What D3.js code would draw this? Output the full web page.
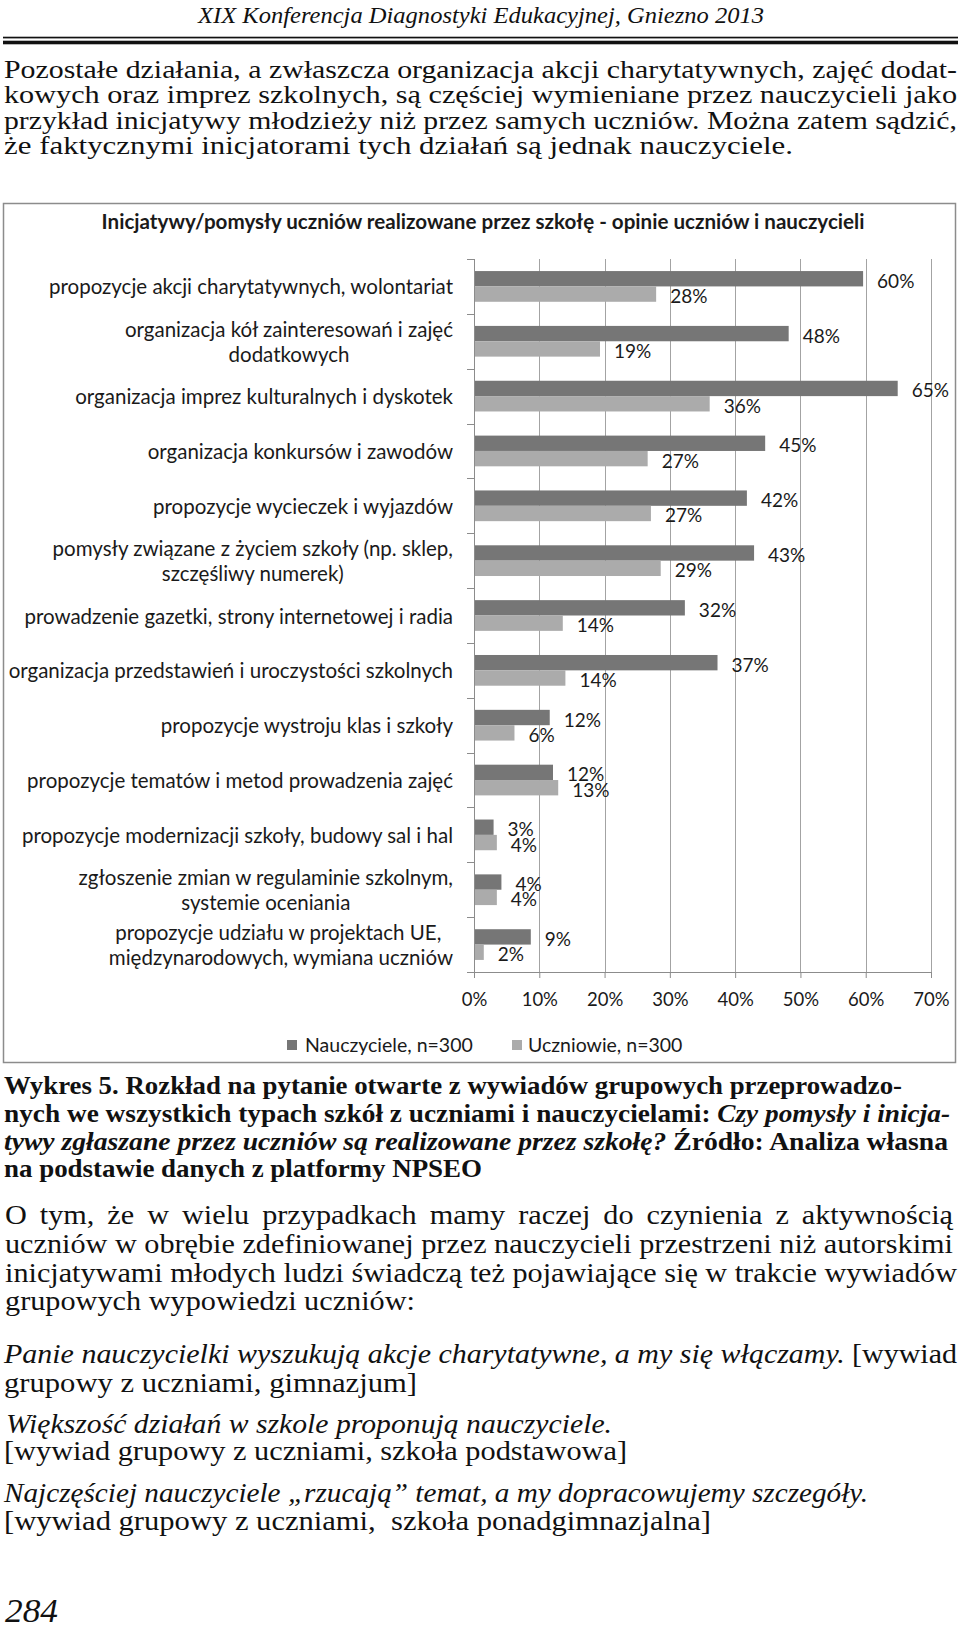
<!DOCTYPE html>
<html>
<head>
<meta charset="utf-8">
<script src="https://cdn.jsdelivr.net/npm/d3@7"></script>
<style>
  body { margin: 0; background: #fff; }
  svg { display: block; }
</style>
</head>
<body>
<div id="page"></div>
<script>
// chart data
const categories = [
  "propozycje akcji charytatywnych, wolontariat",
  "organizacja kół zainteresowań i zajęć\ndodatkowych",
  "organizacja imprez kulturalnych i dyskotek",
  "organizacja konkursów i zawodów",
  "propozycje wycieczek i wyjazdów",
  "pomysły związane z życiem szkoły (np. sklep,\nszczęśliwy numerek)",
  "prowadzenie gazetki, strony internetowej i radia",
  "organizacja przedstawień i uroczystości szkolnych",
  "propozycje wystroju klas i szkoły",
  "propozycje tematów i metod prowadzenia zajęć",
  "propozycje modernizacji szkoły, budowy sal i hal",
  "zgłoszenie zmian w regulaminie szkolnym,\nsystemie oceniania",
  "propozycje udziału w projektach UE, \nmiędzynarodowych, wymiana uczniów"
];
const seriesNames = ["Nauczyciele, n=300", "Uczniowie, n=300"];
const teachers = [59.6, 48.2, 64.9, 44.6, 41.8, 42.9, 32.3, 37.3, 11.6, 12.1, 3.0, 4.2, 8.7];
const students = [27.9, 19.3, 36.1, 26.6, 27.1, 28.6, 13.6, 14.0, 6.2, 12.9, 3.5, 3.5, 1.5];
const xTicks = [0, 10, 20, 30, 40, 50, 60, 70];
const chartTitle = "Inicjatywy/pomysły uczniów realizowane przez szkołę - opinie uczniów i nauczycieli";

const W = 960, H = 1629;
const COLORS = { dark: "#767676", light: "#ababab", grid: "#a3a3a3", axis: "#8c8c8c", text: "#1a1a1a" };

const svg = d3.select("#page").append("svg")
  .attr("width", W)
  .attr("height", H)
  .attr("viewBox", `0 0 ${W} ${H}`);

svg.append("rect").attr("width", W).attr("height", H).attr("fill", "#fff");

// ---------- chart ----------
const chart = svg.append("g")
  .attr("font-family", "Lato, 'Open Sans', sans-serif")
  .attr("fill", COLORS.text);

chart.append("rect")
  .attr("x", 3.5).attr("y", 203.5)
  .attr("width", 952).attr("height", 859)
  .attr("fill", "none")
  .attr("stroke", COLORS.axis)
  .attr("stroke-width", 1.5);

chart.append("text")
  .attr("x", 483).attr("y", 221)
  .attr("text-anchor", "middle")
  .attr("dominant-baseline", "central")
  .attr("font-weight", "bold")
  .attr("font-size", 20.6)
  .text(chartTitle);

const x = d3.scaleLinear().domain([0, 70]).range([474, 931]);
const y = d3.scaleBand().domain(categories).range([259, 972])
  .paddingInner(0.44).paddingOuter(0.22);
const sub = d3.scaleBand().domain(seriesNames).range([0, y.bandwidth()]);
const [yTop, yBottom] = y.range();

chart.append("g").selectAll("line")
  .data(xTicks.slice(1))
  .join("line")
  .attr("x1", d => Math.round(x(d)) + 0.5)
  .attr("x2", d => Math.round(x(d)) + 0.5)
  .attr("y1", yTop).attr("y2", yBottom)
  .attr("stroke", COLORS.grid);

const series = [
  { name: seriesNames[0], values: teachers, color: COLORS.dark },
  { name: seriesNames[1], values: students, color: COLORS.light }
];

series.forEach(s => {
  chart.append("g").selectAll("rect")
    .data(s.values)
    .join("rect")
    .attr("x", x(0))
    .attr("y", (d, i) => y(categories[i]) + sub(s.name))
    .attr("width", d => x(d) - x(0))
    .attr("height", sub.bandwidth())
    .attr("fill", s.color);

  chart.append("g").attr("font-size", 19).selectAll("text")
    .data(s.values)
    .join("text")
    .attr("x", d => x(d) + 14)
    .attr("y", (d, i) => y(categories[i]) + sub(s.name) + sub.bandwidth() / 2 + 1.5)
    .attr("dominant-baseline", "central")
    .text(d => Math.round(d) + "%");
});

// x axis
const xAxis = chart.append("g")
  .attr("transform", `translate(0,${yBottom})`)
  .call(d3.axisBottom(x).tickValues(xTicks).tickFormat(d => d + "%").tickSize(6).tickSizeOuter(0).tickPadding(15))
  .attr("font-family", "Lato, 'Open Sans', sans-serif")
  .attr("font-size", 18.5);
xAxis.select(".domain").attr("stroke", COLORS.axis);
xAxis.selectAll(".tick line").attr("stroke", COLORS.axis);
xAxis.selectAll(".tick text").attr("fill", COLORS.text);

// y axis: line plus ticks on the category boundaries
const yAxis = chart.append("g");
yAxis.append("line")
  .attr("x1", x(0) + 0.5).attr("x2", x(0) + 0.5)
  .attr("y1", yTop).attr("y2", yBottom)
  .attr("stroke", COLORS.axis);
yAxis.selectAll("line.tick")
  .data(d3.range(categories.length + 1))
  .join("line")
  .attr("class", "tick")
  .attr("x1", x(0) - 7).attr("x2", x(0))
  .attr("y1", i => Math.round(yTop + i * y.step()) + 0.5)
  .attr("y2", i => Math.round(yTop + i * y.step()) + 0.5)
  .attr("stroke", COLORS.axis);

// category labels, multi-line ones centred inside a right-aligned block
const catG = chart.append("g").attr("font-size", 20.5);
const labelRight = x(0) - 21;
categories.forEach(c => {
  const lines = c.split("\n");
  const cy = y(c) + y.bandwidth() / 2;
  const texts = lines.map((ln, i) => catG.append("text")
    .style("white-space", "pre")
    .attr("dominant-baseline", "central")
    .attr("text-anchor", "middle")
    .attr("y", cy + (i - (lines.length - 1) / 2) * 24.5)
    .text(ln));
  const bw = d3.max(texts, t => t.node().getComputedTextLength());
  texts.forEach(t => t.attr("x", labelRight - bw / 2));
});

// legend
const legend = chart.append("g").attr("font-size", 19.5);
[[287, 305], [512, 528]].forEach(([sx, tx], i) => {
  legend.append("rect").attr("x", sx).attr("y", 1040).attr("width", 10).attr("height", 10)
    .attr("fill", series[i].color);
  legend.append("text").attr("x", tx).attr("y", 1044.5)
    .attr("dominant-baseline", "central").text(series[i].name);
});

// ---------- page text ----------
svg.append("rect").attr("x", 3).attr("y", 36.7).attr("width", 955).attr("height", 1.7).attr("fill", "#111");
svg.append("rect").attr("x", 3).attr("y", 40.7).attr("width", 955).attr("height", 3.6).attr("fill", "#111");

// g = group sharing one font; j = justified line
const pageLines = [
  { g: "head", x: 198, y: 22.5, w: 566, size: 23, parts: [["XIX Konferencja Diagnostyki Edukacyjnej, Gniezno 2013", "i"]] },

  { g: "p1", x: 4, y: 77.5, w: 953, size: 25.5, j: true, parts: [["Pozostałe działania, a zwłaszcza organizacja akcji charytatywnych, zajęć dodat-", ""]] },
  { g: "p1", x: 4, y: 103, w: 953, size: 25.5, j: true, parts: [["kowych oraz imprez szkolnych, są częściej wymieniane przez nauczycieli jako", ""]] },
  { g: "p1", x: 4, y: 128.5, w: 953, size: 25.5, j: true, parts: [["przykład inicjatywy młodzieży niż przez samych uczniów. Można zatem sądzić,", ""]] },
  { g: "p1", x: 4, y: 154, w: 789, size: 25.5, parts: [["że faktycznymi inicjatorami tych działań są jednak nauczyciele.", ""]] },

  { g: "cap", x: 4, y: 1094, w: 898, size: 26, parts: [["Wykres 5. Rozkład na pytanie otwarte z wywiadów grupowych przeprowadzo-", "b"]] },
  { g: "cap", x: 4, y: 1122, w: 946, size: 26, parts: [["nych we wszystkich typach szkół z uczniami i nauczycielami: ", "b"], ["Czy pomysły i inicja-", "bi"]] },
  { g: "cap", x: 4, y: 1149.5, w: 944, size: 26, parts: [["tywy zgłaszane przez uczniów są realizowane przez szkołę?", "bi"], [" Źródło: Analiza własna", "b"]] },
  { g: "cap", x: 4, y: 1177, w: 478, size: 26, parts: [["na podstawie danych z platformy NPSEO", "b"]] },

  { g: "p2", x: 5, y: 1224, w: 948, size: 28, j: true, parts: [["O tym, że w wielu przypadkach mamy raczej do czynienia z aktywnością", ""]] },
  { g: "p2", x: 5, y: 1253, w: 948, size: 28, j: true, parts: [["uczniów w obrębie zdefiniowanej przez nauczycieli przestrzeni niż autorskimi", ""]] },
  { g: "p2", x: 5, y: 1281.5, w: 952, size: 28, j: true, parts: [["inicjatywami młodych ludzi świadczą też pojawiające się w trakcie wywiadów", ""]] },
  { g: "p2", x: 5, y: 1310, w: 410, size: 28, parts: [["grupowych wypowiedzi uczniów:", ""]] },

  { g: "q", x: 4, y: 1363, w: 953, size: 28, j: true, parts: [["Panie nauczycielki wyszukują akcje charytatywne, a my się włączamy.", "i"], [" [wywiad", ""]] },
  { g: "q", x: 4, y: 1392, w: 413, size: 28, parts: [["grupowy z uczniami, gimnazjum]", ""]] },
  { g: "q", x: 6, y: 1433, w: 606, size: 28, parts: [["Większość działań w szkole proponują nauczyciele.", "i"]] },
  { g: "q", x: 4, y: 1460, w: 623, size: 28, parts: [["[wywiad grupowy z uczniami, szkoła podstawowa]", ""]] },
  { g: "q", x: 4, y: 1502, w: 864, size: 28, parts: [["Najczęściej nauczyciele „rzucają” temat, a my dopracowujemy szczegóły.", "i"]] },
  { g: "q", x: 4, y: 1530, w: 707, size: 28, parts: [["[wywiad grupowy z uczniami,  szkoła ponadgimnazjalna]", ""]] },

  { g: "num", x: 5, y: 1622, w: 53, size: 34, parts: [["284", "i"]] }
];

const textG = svg.append("g")
  .attr("font-family", "'Liberation Serif', 'Times New Roman', serif")
  .attr("fill", "#111");

const nodes = pageLines.map(l => {
  const t = textG.append("text")
    .style("white-space", "pre")
    .attr("x", l.x).attr("y", l.y)
    .attr("font-size", l.size);
  l.parts.forEach(([str, st]) => {
    t.append("tspan")
      .attr("font-style", st.includes("i") ? "italic" : "normal")
      .attr("font-weight", st.includes("b") ? "bold" : "normal")
      .text(str);
  });
  return { l, t, len: t.node().getComputedTextLength() };
});

// stretch of the serif font against the original, per group, from its unjustified lines
const ratios = d3.rollup(nodes.filter(n => !n.l.j), v => d3.median(v, n => n.l.w / n.len), n => n.l.g);

nodes.forEach(({ l, t, len }) => {
  if (l.j) {
    const r = ratios.get(l.g) || 1;
    const spaces = l.parts.map(p => p[0]).join("").split(" ").length - 1;
    const ws = Math.max(0, (l.w / r - len) / spaces);
    t.attr("word-spacing", ws);
  }
  t.attr("textLength", l.w).attr("lengthAdjust", "spacingAndGlyphs");
});
</script>
</body>
</html>
